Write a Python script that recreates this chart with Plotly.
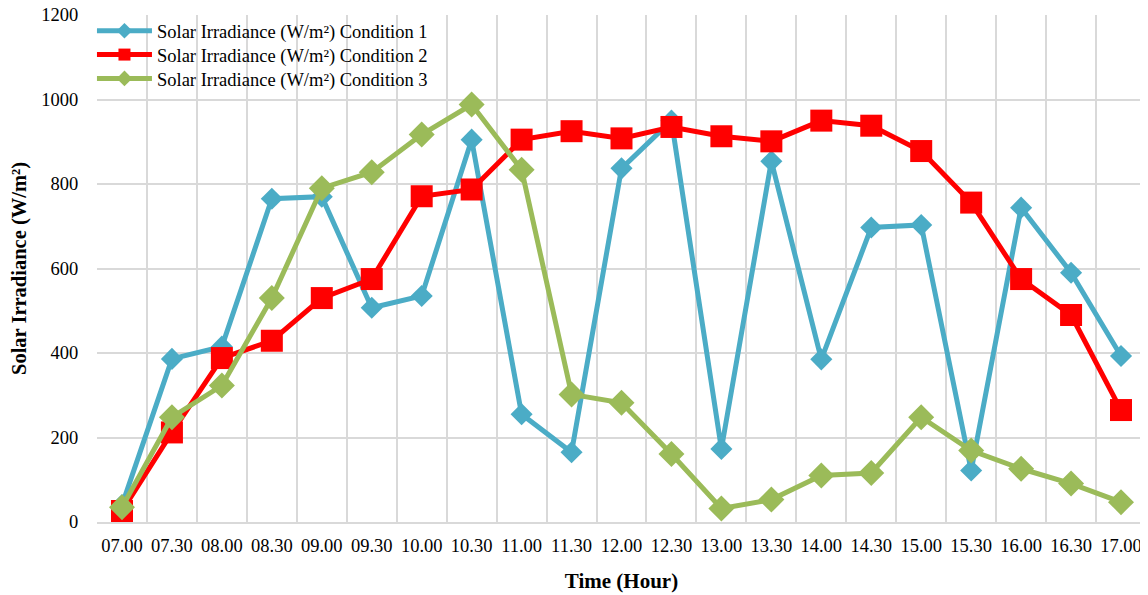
import plotly.graph_objects as go

times = ["07.00", "07.30", "08.00", "08.30", "09.00", "09.30", "10.00", "10.30",
         "11.00", "11.30", "12.00", "12.30", "13.00", "13.30", "14.00", "14.30",
         "15.00", "15.30", "16.00", "16.30", "17.00"]

cond1 = [40, 386, 415, 765, 770, 507, 535, 905, 255, 165, 837, 950, 173, 854,
         385, 697, 703, 122, 744, 590, 393]
cond2 = [26, 212, 388, 429, 530, 575, 771, 787, 905, 925, 908, 935, 913, 901,
         950, 938, 878, 756, 575, 490, 265]
cond3 = [35, 248, 323, 530, 790, 828, 917, 988, 834, 302, 282, 161, 32, 53,
         110, 116, 248, 169, 126, 91, 47]

names = ["Solar Irradiance (W/m²) Condition 1",
         "Solar Irradiance (W/m²) Condition 2",
         "Solar Irradiance (W/m²) Condition 3"]
colors = ["#4BACC6", "#FF0000", "#9BBB59"]
symbols = ["diamond", "square", "diamond"]
sizes = [17, 22, 20]

FONT = "Liberation Serif"
legend_ids = ["legend", "legend2", "legend3"]
legend_y = [0.968, 0.921, 0.874]

fig = go.Figure()
for ys, nm, c, s, sz, lg in zip([cond1, cond2, cond3], names, colors, symbols, sizes, legend_ids):
    fig.add_trace(go.Scatter(
        x=times, y=ys, name=nm, mode="lines+markers",
        line=dict(color=c, width=5),
        marker=dict(color=c, symbol=s, size=sz),
        legend=lg,
    ))

legend_common = dict(x=-0.0048, xanchor="left", yanchor="middle",
                     bgcolor="rgba(0,0,0,0)", font=dict(family=FONT, size=18.5),
                     itemwidth=55, itemsizing="constant")

# page body has an 8px margin, so the figure is sized to fit the window
fig.update_layout(
    width=1140, height=587,
    margin=dict(l=89, r=2, t=7, b=73),
    paper_bgcolor="white", plot_bgcolor="white",
    font=dict(family=FONT, size=18.5, color="black"),
    showlegend=True,
    legend=dict(y=legend_y[0], **legend_common),
    legend2=dict(y=legend_y[1], **legend_common),
    legend3=dict(y=legend_y[2], **legend_common),
    xaxis=dict(
        type="category", range=[-0.5, 20.5], tickson="boundaries",
        showgrid=True, gridcolor="#D9D9D9", gridwidth=1.5,
        ticks="outside", ticklen=8, tickcolor="rgba(0,0,0,0)",
        ticklabelstandoff=6,
        showline=True, linecolor="#D9D9D9", linewidth=1.5,
        tickangle=0,
        tickfont=dict(family=FONT, size=18.5), automargin=False,
        title=dict(text="<b>Time (Hour)</b>", font=dict(family=FONT, size=21), standoff=18),
    ),
    yaxis=dict(
        range=[0, 1200], dtick=200, showgrid=True, gridcolor="#D9D9D9", gridwidth=1.5,
        zeroline=False, showline=False,
        ticks="outside", ticklen=14, tickcolor="rgba(0,0,0,0)",
        ticklabeloverflow="allow",
        tickfont=dict(family=FONT, size=18.5), automargin=False,
        title=dict(text="<b>Solar Irradiance (W/m²)</b>", font=dict(family=FONT, size=20.5), standoff=11),
    ),
)

fig.write_html("out.html")
